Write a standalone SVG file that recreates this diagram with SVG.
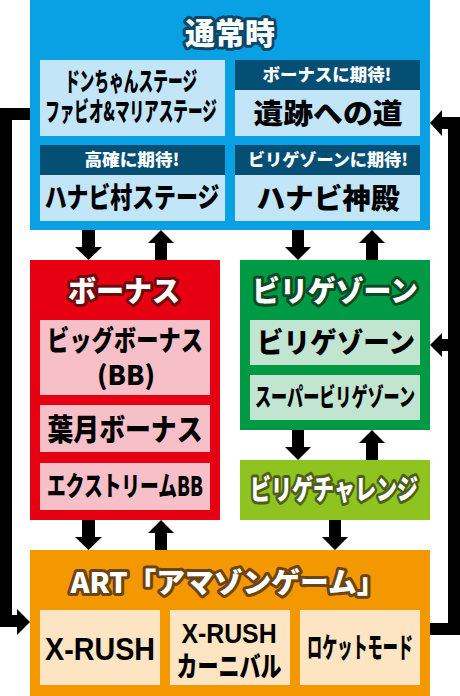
<svg xmlns="http://www.w3.org/2000/svg" width="460" height="696" viewBox="0 0 460 696">
<style>
text{font-family:"Noto Sans CJK JP","Noto Sans CJK SC",sans-serif;font-weight:900;text-anchor:middle}
.b{fill:#000}
.l{font-family:"Liberation Sans",Arial,sans-serif;font-weight:700}
.h{fill:#fff;font-size:17px}
.t{fill:#fff;stroke-width:6;stroke-linejoin:round;paint-order:stroke}
.ib{fill:#c2e6f8}
.ip{fill:#f7bfc7}
.ig{fill:#c2e5d2}
.io{fill:#fde4c2}
.hd{fill:#064f74}
.ln{fill:none;stroke:#000;stroke-width:12;stroke-linejoin:miter}
.ar{fill:#000}
</style>
<g id="tsujo">
<rect x="30" y="0" width="400" height="230" fill="#0aa0e4"/>
<text class="t" x="230" y="44" font-size="30" stroke="#0b4766" textLength="90" lengthAdjust="spacingAndGlyphs">通常時</text>
<rect class="ib" x="40" y="60" width="185" height="76"/>
<text class="b" transform="translate(131,0) scale(0.565,1)" font-size="26"><tspan x="0" y="91" textLength="234" lengthAdjust="spacingAndGlyphs">ドンちゃんステージ</tspan><tspan x="0" y="121" textLength="304" lengthAdjust="spacingAndGlyphs">ファビオ&amp;マリアステージ</tspan></text>
<rect class="ib" x="235" y="60" width="185" height="76"/>
<rect class="hd" x="235" y="60" width="185" height="30"/>
<text class="h" x="327" y="81" textLength="129" lengthAdjust="spacingAndGlyphs">ボーナスに期待!</text>
<text class="b" x="328" y="124" font-size="28" textLength="149" lengthAdjust="spacingAndGlyphs">遺跡への道</text>
<rect class="ib" x="40" y="145" width="185" height="76"/>
<rect class="hd" x="40" y="145" width="185" height="30"/>
<text class="h" x="132" y="166" textLength="95" lengthAdjust="spacingAndGlyphs">高確に期待!</text>
<text class="b" transform="translate(132,208) scale(0.78,1)" font-size="28" textLength="224" lengthAdjust="spacingAndGlyphs">ハナビ村ステージ</text>
<rect class="ib" x="235" y="145" width="185" height="76"/>
<rect class="hd" x="235" y="145" width="185" height="30"/>
<text class="h" x="328" y="166" textLength="160" lengthAdjust="spacingAndGlyphs">ビリゲゾーンに期待!</text>
<text class="b" x="328" y="209" font-size="28" textLength="143" lengthAdjust="spacingAndGlyphs">ハナビ神殿</text>
</g>
<g id="bonus">
<rect x="30" y="260" width="190" height="260" fill="#e60012"/>
<text class="t" x="124" y="302" font-size="29" stroke="#6e0b0b" textLength="112" lengthAdjust="spacingAndGlyphs">ボーナス</text>
<rect class="ip" x="40" y="320" width="170" height="75"/>
<text class="b" transform="translate(125,351) scale(0.796,1)" font-size="28" textLength="196" lengthAdjust="spacingAndGlyphs">ビッグボーナス</text>
<text class="b" x="126" y="385" font-size="26" textLength="58" lengthAdjust="spacingAndGlyphs">(BB)</text>
<rect class="ip" x="40" y="405" width="170" height="47"/>
<text class="b" transform="translate(125,440) scale(0.861,1)" font-size="30" textLength="180" lengthAdjust="spacingAndGlyphs">葉月ボーナス</text>
<rect class="ip" x="40" y="463" width="170" height="47"/>
<text class="b" transform="translate(125,496) scale(0.696,1)" font-size="27" textLength="224" lengthAdjust="spacingAndGlyphs">エクストリームBB</text>
</g>
<g id="biligezone">
<rect x="240" y="260" width="190" height="170" fill="#009944"/>
<text class="t" transform="translate(335,302) scale(0.954,1)" font-size="29" stroke="#0b4a22" textLength="174" lengthAdjust="spacingAndGlyphs">ビリゲゾーン</text>
<rect class="ig" x="250" y="320" width="170" height="45"/>
<text class="b" transform="translate(336,353) scale(0.94,1)" font-size="28" textLength="168" lengthAdjust="spacingAndGlyphs">ビリゲゾーン</text>
<rect class="ig" x="250" y="375" width="170" height="45"/>
<text class="b" transform="translate(335,406) scale(0.64,1)" font-size="25" textLength="250" lengthAdjust="spacingAndGlyphs">スーパービリゲゾーン</text>
</g>
<g id="challenge">
<rect x="240" y="460" width="190" height="60" fill="#8fc31f"/>
<text class="t" transform="translate(334,500) scale(0.75,1)" font-size="28" stroke="#4d5f1a" textLength="224" lengthAdjust="spacingAndGlyphs">ビリゲチャレンジ</text>
</g>
<g id="art">
<rect x="30" y="550" width="400" height="146" fill="#f39800"/>
<text class="t" x="228" y="593" font-size="28" stroke="#6b4412" textLength="315" lengthAdjust="spacingAndGlyphs">ART「アマゾンゲーム」</text>
<rect class="io" x="40" y="610" width="120" height="75"/>
<text class="b l" x="100" y="660" font-size="32" textLength="110" lengthAdjust="spacingAndGlyphs">X-RUSH</text>
<rect class="io" x="170" y="610" width="120" height="75"/>
<text class="b" transform="translate(229,0) scale(0.75,1)" font-size="28"><tspan class="l" x="0" y="643" textLength="127" lengthAdjust="spacingAndGlyphs">X-RUSH</tspan><tspan x="0" y="677" textLength="140" lengthAdjust="spacingAndGlyphs">カーニバル</tspan></text>
<rect class="io" x="300" y="610" width="120" height="75"/>
<text class="b" transform="translate(360,658) scale(0.54,1)" font-size="28" textLength="196" lengthAdjust="spacingAndGlyphs">ロケットモード</text>
</g>
<g id="connectors">
<polyline class="ln" points="30,114 6,114 6,621 18,621"/>
<polygon class="ar" points="17,609 30,622 17,635"/>
<polyline class="ln" points="430,629 454,629 454,123 441,123"/>
<polygon class="ar" points="442,110 430,123 442,136"/>
<line class="ln" x1="454" y1="345" x2="441" y2="345"/>
<polygon class="ar" points="442,333 430,345 442,357"/>
<path class="ar" d="M82,230H95V247H102L88.5,260L75,247H82Z"/>
<path class="ar" d="M155,260H167V243H174L161,230L148,243H155Z"/>
<path class="ar" d="M292,230H304V247H311L298,260L285,247H292Z"/>
<path class="ar" d="M366,260H378V243H385L372,230L359,243H366Z"/>
<path class="ar" d="M292,430H304V447H311L298,460L285,447H292Z"/>
<path class="ar" d="M366,460H378V443H385L372,430L359,443H366Z"/>
<path class="ar" d="M82,520H95V537H102L88.5,550L75,537H82Z"/>
<path class="ar" d="M155,550H167V533H174L161,520L148,533H155Z"/>
<path class="ar" d="M329,520H341V537H348L335,550L322,537H329Z"/>
</g>
</svg>
